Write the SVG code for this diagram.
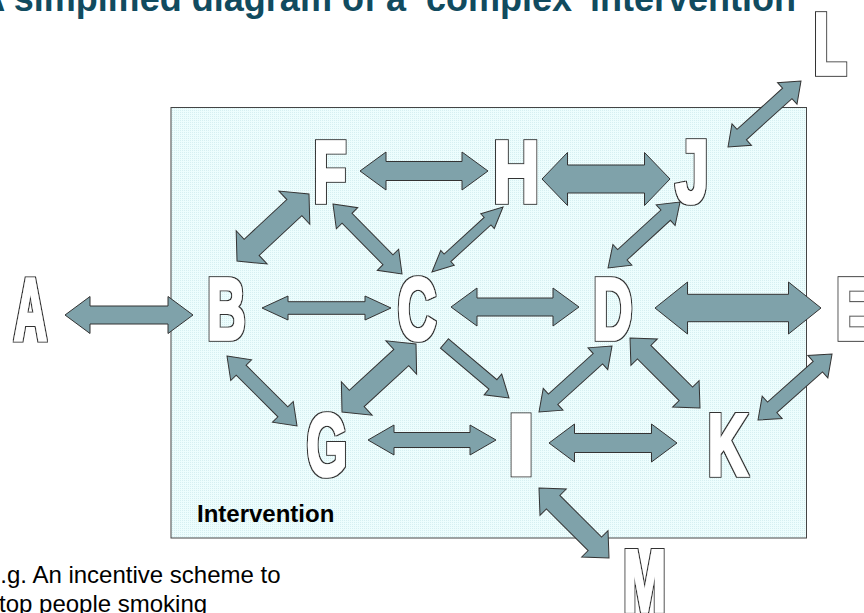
<svg xmlns="http://www.w3.org/2000/svg" width="864" height="613" viewBox="0 0 864 613">
<defs>
<pattern id="dots" width="2" height="2" patternUnits="userSpaceOnUse">
<rect width="2" height="2" fill="#edfdfd"/>
<rect width="1" height="1" fill="#d6eff1"/>
</pattern>
<filter id="outline" x="-30%" y="-30%" width="160%" height="160%">
<feMorphology in="SourceAlpha" operator="dilate" radius="1" result="d"/>
<feFlood flood-color="#333333"/>
<feComposite in2="d" operator="in" result="o"/>
<feMerge><feMergeNode in="o"/><feMergeNode in="SourceGraphic"/></feMerge>
</filter>
</defs>
<style>
.arr{fill:#7fa2aa;stroke:#333;stroke-width:1;stroke-linejoin:miter}
.node{filter:url(#outline)}
.node text{font-family:"Liberation Sans",Arial,sans-serif;font-weight:bold;font-size:64px;fill:#fff;stroke:#fff;stroke-width:3;stroke-linejoin:miter;stroke-miterlimit:4;text-anchor:middle;vector-effect:non-scaling-stroke}
.title{font-family:"Liberation Sans",Arial,sans-serif;font-weight:bold;font-size:36px;fill:#114b5f}
.lbl{font-family:"Liberation Sans",Arial,sans-serif;font-weight:bold;font-size:24px;fill:#000}
.note{font-family:"Liberation Sans",Arial,sans-serif;font-size:24px;fill:#000}
</style>
<text class="title" x="796" y="11" text-anchor="end">A simplified diagram of a ‘complex’ intervention</text>
<g id="intervention-box">
<rect x="171" y="107.5" width="635.5" height="430.5" fill="url(#dots)" stroke="#444" stroke-width="1"/>
<text class="lbl" x="197" y="522">Intervention</text>
</g>
<text class="note" x="-13" y="583">e.g. An incentive scheme to</text>
<text class="note" x="-13" y="612">stop people smoking</text>
<g id="connectors">
<polygon class="arr" transform="translate(65,315)" points="0,0 25,-18.5 25,-9 103,-9 103,-18.5 128,0 103,18.5 103,9 25,9 25,18.5"/>
<polygon class="arr" transform="translate(262,308)" points="0,0 26,-12 26,-6.3 103,-6.3 103,-12 129,0 103,12 103,6.3 26,6.3 26,12"/>
<polygon class="arr" transform="translate(451,307)" points="0,0 26,-19 26,-9 102,-9 102,-19 128,0 102,19 102,9 26,9 26,19"/>
<polygon class="arr" transform="translate(655,308)" points="0,0 32.5,-26 32.5,-13.7 133.5,-13.7 133.5,-26 166,0 133.5,26 133.5,13.7 32.5,13.7 32.5,26"/>
<polygon class="arr" transform="translate(360,171)" points="0,0 26,-19 26,-9.5 102,-9.5 102,-19 128,0 102,19 102,9.5 26,9.5 26,19"/>
<polygon class="arr" transform="translate(542,179)" points="0,0 25.5,-26.5 25.5,-14 102.5,-14 102.5,-26.5 128,0 102.5,26.5 102.5,14 25.5,14 25.5,26.5"/>
<polygon class="arr" transform="translate(237,261) rotate(-42.94)" points="0,0 20,-22.7 20,-11 78.35,-11 78.35,-22.7 98.35,0 78.35,22.7 78.35,11 20,11 20,22.7"/>
<polygon class="arr" transform="translate(333,204) rotate(45.41)" points="0,0 20,-15 20,-7 78.3,-7 78.3,-15 98.3,0 78.3,15 78.3,7 20,7 20,15"/>
<polygon class="arr" transform="translate(432,272) rotate(-42.47)" points="0,0 21,-10 21,-5 75.3,-5 75.3,-10 96.3,0 75.3,10 75.3,5 21,5 21,10"/>
<polygon class="arr" transform="translate(608,268) rotate(-42.51)" points="0,0 19.5,-14 19.5,-7 78.2,-7 78.2,-14 97.7,0 78.2,14 78.2,7 19.5,7 19.5,14"/>
<polygon class="arr" transform="translate(728,147) rotate(-42.12)" points="0,0 18.5,-14.5 18.5,-7 79.9,-7 79.9,-14.5 98.4,0 79.9,14.5 79.9,7 18.5,7 18.5,14.5"/>
<polygon class="arr" transform="translate(227,356) rotate(45)" points="0,0 20,-14.7 20,-7 79,-7 79,-14.7 99,0 79,14.7 79,7 20,7 20,14.7"/>
<polygon class="arr" transform="translate(342,412) rotate(-42.58)" points="0,0 20,-22.7 20,-11 80.5,-11 80.5,-22.7 100.5,0 80.5,22.7 80.5,11 20,11 20,22.7"/>
<polygon class="arr" transform="translate(368,440)" points="0,0 26,-15 26,-7.5 102,-7.5 102,-15 128,0 102,15 102,7.5 26,7.5 26,15"/>
<polygon class="arr" transform="translate(549,443)" points="0,0 25.5,-19 25.5,-9.5 102.5,-9.5 102.5,-19 128,0 102.5,19 102.5,9.5 25.5,9.5 25.5,19"/>
<polygon class="arr" transform="translate(539,412) rotate(-42.12)" points="0,0 19,-14.7 19,-7 79.4,-7 79.4,-14.7 98.4,0 79.4,14.7 79.4,7 19,7 19,14.7"/>
<polygon class="arr" transform="translate(630,338) rotate(45)" points="0,0 20,-18.7 20,-9.5 79,-9.5 79,-18.7 99,0 79,18.7 79,9.5 20,9.5 20,18.7"/>
<polygon class="arr" transform="translate(758,420) rotate(-41.73)" points="0,0 19,-15 19,-7 80.2,-7 80.2,-15 99.2,0 80.2,15 80.2,7 19,7 19,15"/>
<polygon class="arr" transform="translate(539,488) rotate(45)" points="0,0 20,-18.6 20,-9.5 79,-9.5 79,-18.6 99,0 79,18.6 79,9.5 20,9.5 20,18.6"/>
<polygon class="arr" transform="translate(444.5,343.5) rotate(40.2)" points="0,-6.2 63.4,-6.2 63.4,-13.6 84.4,0 63.4,13.6 63.4,6.2 0,6.2"/>
</g>
<g id="node-A" class="node"><text transform="translate(30.5,338.5) scale(0.71,1.375)">A</text></g>
<g id="node-B" class="node"><text transform="translate(226.5,338.5) scale(0.83,1.375)">B</text></g>
<g id="node-C" class="node"><text transform="translate(417,338.5) scale(0.83,1.375)">C</text></g>
<g id="node-D" class="node"><text transform="translate(613,338.5) scale(0.85,1.375)">D</text></g>
<g id="node-E" class="node"><text transform="translate(855,338.5) scale(0.89,1.375)">E</text></g>
<g id="node-F" class="node"><text transform="translate(330,202) scale(0.84,1.375)">F</text></g>
<g id="node-H" class="node"><text transform="translate(516,202) scale(1.0,1.375)">H</text></g>
<g id="node-J" class="node"><text transform="translate(692,202) scale(0.93,1.375)">J</text></g>
<g id="node-G" class="node"><text transform="translate(327,474.5) scale(0.81,1.375)">G</text></g>
<g id="node-I" class="node"><text transform="translate(521,474.5) scale(1.67,1.375)">I</text></g>
<g id="node-K" class="node"><text transform="translate(727.5,474.5) scale(0.86,1.375)">K</text></g>
<g id="node-L" class="node"><text transform="translate(830,73.5) scale(0.85,1.375)">L</text></g>
<g id="node-M" class="node"><text transform="translate(644.5,610.5) scale(0.8,1.375)">M</text></g>
</svg>
